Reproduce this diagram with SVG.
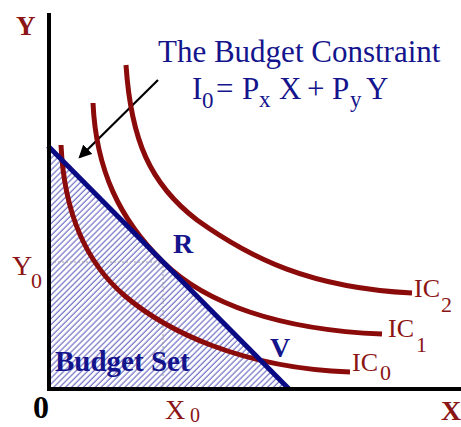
<svg xmlns="http://www.w3.org/2000/svg" width="461" height="427" viewBox="0 0 461 427">
<style>
.serif{font-family:"Liberation Serif","Times New Roman",serif}
.navy{fill:#14148c}
.red{fill:#8b1414}
.b{font-weight:bold}
.ic{fill:none;stroke:#8b0a0a;stroke-width:5;stroke-linecap:butt}
.dot{fill:none;stroke:#a0a0a0;stroke-width:1;stroke-dasharray:2 2}
.axis{fill:none;stroke:#000;stroke-width:4}
</style>
<defs>
<pattern id="hatch" patternUnits="userSpaceOnUse" width="4.2" height="10" patternTransform="rotate(45)">
<rect width="4.2" height="10" fill="#fff"/>
<line x1="1" y1="0" x2="1" y2="10" stroke="#6464c0" stroke-width="1.1"/>
</pattern>
<marker id="ah" markerWidth="6" markerHeight="6" refX="5" refY="3" orient="auto" markerUnits="strokeWidth">
<path d="M0,0 L6,3 L0,6 Z" fill="#000"/>
</marker>
</defs>

<g id="budget-set">
<polygon points="49,147 289,389 49,389" fill="url(#hatch)"/>
</g>

<g id="connectors">
<line class="dot" x1="50" y1="262" x2="163" y2="262"/>
<line class="dot" x1="163" y1="262" x2="163" y2="388"/>
<line x1="158" y1="80" x2="80" y2="157" stroke="#000" stroke-width="2.2" marker-end="url(#ah)"/>
</g>

<g id="ic0"><path class="ic" d="M61,145 C64,210 85,262 125,296 C165,330 240,368 350,372"/></g>
<g id="ic1"><path class="ic" d="M93,103 C96,170 120,220 163,262 C206,304 280,330 382,334"/></g>
<g id="ic2"><path class="ic" d="M126,65 C131,140 150,184 197,220 C250,258 310,288 412,293"/></g>

<g id="budget-line">
<line x1="48" y1="146" x2="289" y2="389" stroke="#0a0a85" stroke-width="5"/>
</g>

<g id="axes">
<line class="axis" x1="49" y1="13" x2="49" y2="391"/>
<line class="axis" x1="47" y1="389" x2="461" y2="389"/>
</g>

<g id="labels" class="serif">
<text class="red b" x="16" y="35" font-size="27">Y</text>
<text class="red b" x="441" y="420" font-size="28">X</text>
<text class="b" x="33" y="418" font-size="32" fill="#000">0</text>
<text class="red" font-size="28"><tspan x="12" y="275">Y</tspan><tspan x="31" y="288" font-size="22">0</tspan></text>
<text class="red" font-size="28"><tspan x="165" y="419">X</tspan><tspan x="190" y="422" font-size="20">0</tspan></text>
<text class="navy b" x="173" y="253" font-size="28">R</text>
<text class="navy b" x="270" y="357" font-size="28">V</text>
<text class="navy b" x="55" y="371" font-size="29">Budget Set</text>
<text class="red" font-size="26"><tspan x="414" y="297">IC</tspan><tspan x="441" y="312" font-size="22">2</tspan></text>
<text class="red" font-size="26"><tspan x="388" y="337">IC</tspan><tspan x="416" y="352" font-size="22">1</tspan></text>
<text class="red" font-size="26"><tspan x="352" y="371">IC</tspan><tspan x="380" y="380" font-size="22">0</tspan></text>
</g>

<g id="title" class="serif navy">
<text x="158" y="62" font-size="31">The Budget Constraint</text>
<text font-size="31"><tspan x="192" y="99">I</tspan><tspan x="202" y="108" font-size="23">0</tspan><tspan x="216" y="99">=</tspan><tspan x="242" y="99">P</tspan><tspan x="259" y="107" font-size="23">x</tspan><tspan x="279" y="99">X</tspan><tspan x="307" y="99">+</tspan><tspan x="332" y="99">P</tspan><tspan x="350" y="107" font-size="23">y</tspan><tspan x="366" y="99">Y</tspan></text>
</g>
</svg>
